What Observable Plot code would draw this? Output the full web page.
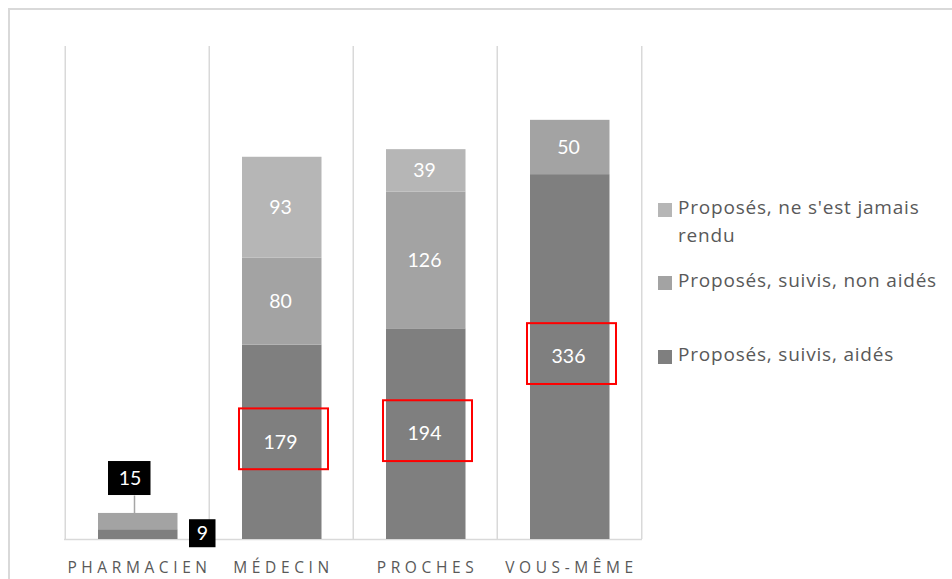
<!DOCTYPE html>
<html><head><meta charset="utf-8">
<script src="https://cdn.jsdelivr.net/npm/d3@7"></script>
<script src="https://cdn.jsdelivr.net/npm/@observablehq/plot@0.6"></script>
<style>
body{margin:0;background:#fff;font-family:"Open Sans",Lato,sans-serif;}
#wrap{position:relative;width:952px;height:579px;overflow:hidden;}
#border{position:absolute;left:8px;top:8px;width:1000px;height:700px;border-left:2px solid #d9d9d9;border-top:2px solid #d9d9d9;}
#chart{position:absolute;left:0;top:0;}
#legend{position:absolute;left:658px;top:0;width:294px;color:#595959;font-size:19px;letter-spacing:0.8px;}
.item{position:absolute;left:0;display:flex;align-items:flex-start;width:294px;}
.sw{width:14px;height:14px;margin-top:5px;margin-right:6px;flex:none;}
.lbl{line-height:28px;margin-top:-5px;max-width:270px;}
#chart g[aria-label^="x-axis"] text{letter-spacing:4.6px;font-size:15.5px;}
</style></head>
<body><div id="wrap"><div id="border"></div><div id="chart"></div><div id="legend"></div></div>
<script>
const categories = ["PHARMACIEN", "MÉDECIN", "PROCHES", "VOUS-MÊME"];
const series = ["Proposés, suivis, aidés", "Proposés, suivis, non aidés", "Proposés, ne s'est jamais rendu"];
const aides = [9, 179, 194, 336];
const nonAides = [15, 80, 126, 50];
const jamais = [0, 93, 39, 0];
const highlighted = ["MÉDECIN", "PROCHES", "VOUS-MÊME"];
const outsideLabels = ["PHARMACIEN"];
const colors = ["#7f7f7f", "#a3a3a3", "#b6b6b6"];

const values = [aides, nonAides, jamais];
const rows = [];
series.forEach((s, si) => categories.forEach((c, ci) => {
  if (values[si][ci] > 0) rows.push({cat: c, series: s, value: values[si][ci]});
}));
const totals = categories.map((c, i) => ({cat: c, total: aides[i] + nonAides[i] + jamais[i], aides: aides[i], nonAides: nonAides[i]}));
const inside = rows.filter(d => !outsideLabels.includes(d.cat));
const pharma = totals.filter(d => outsideLabels.includes(d.cat));
const hl = totals.filter(d => highlighted.includes(d.cat)).map(d => ({cat: d.cat, mid: d.aides / 2}));
const lift = 16.5; // leader length in data units

const step = (642 - 64) / categories.length;

const chart = Plot.plot({
  width: 660, height: 579,
  marginTop: 46, marginBottom: 40, marginLeft: 64, marginRight: 18,
  x: {domain: categories, padding: 0, axis: null, label: null},
  y: {domain: [0, 454], axis: null},
  color: {domain: series, range: colors},
  style: {fontFamily: "'Open Sans', Lato, sans-serif", background: "transparent"},
  marks: [
    Plot.ruleX(categories, {x: d => d, dx: -step / 2, stroke: "#d9d9d9", strokeWidth: 1.5}),
    Plot.ruleX(categories.slice(-1), {x: d => d, dx: step / 2, stroke: "#d9d9d9", strokeWidth: 1.5}),
    Plot.ruleY([0], {stroke: "#d9d9d9", strokeWidth: 1.5}),
    Plot.barY(rows, {x: "cat", y: "value", fill: "series", insetLeft: 33, insetRight: 31.5}),
    Plot.text(inside, Plot.stackY({x: "cat", y: "value", z: "series", text: d => String(d.value), fill: "white", fontSize: 19.5, fontFamily: "Lato, sans-serif", dx: -1})),
    Plot.rect(hl, {x: "cat", y1: d => d.mid - 28, y2: d => d.mid + 28, dy: -3, insetLeft: 30, insetRight: 25, fill: "none", stroke: "#ff0000", strokeWidth: 2}),
    // Pharmacien outside labels
    Plot.link(pharma, {x1: "cat", x2: "cat", y1: "total", y2: d => d.total + lift, dx: -3, stroke: "#a6a6a6", strokeWidth: 1.5}),
    Plot.rect(pharma, {x: "cat", y1: d => d.total + lift, y2: d => d.total + lift, insetTop: -34, insetBottom: 0, insetLeft: 43, insetRight: 58.5, fill: "black"}),
    Plot.text(pharma, {x: "cat", y: d => d.total + lift, dy: -17, dx: -7.5, text: d => String(d.nonAides), fill: "white", fontSize: 19.5, fontFamily: "Lato, sans-serif"}),
    Plot.rect(pharma, {x: "cat", y1: "aides", y2: "aides", insetTop: -10, insetBottom: -18, insetLeft: 124, insetRight: -6.5, fill: "black"}),
    Plot.text(pharma, {x: "cat", y: "aides", dy: 4, dx: 65, text: d => String(d.aides), fill: "white", fontSize: 19.5, fontFamily: "Lato, sans-serif"}),
    Plot.axisX({tickSize: 0, tickPadding: 22, fontSize: 15.5, dx: 2, color: "#595959", fill: "#595959", label: null})
  ]
});
document.getElementById("chart").append(chart);

// Legend
const legend = document.getElementById("legend");
const legendOrder = [2, 1, 0];
const tops = [198, 271, 345];
legendOrder.forEach((si, k) => {
  const it = document.createElement("div");
  it.className = "item";
  it.style.top = tops[k] + "px";
  const sw = document.createElement("div");
  sw.className = "sw"; sw.style.background = colors[si];
  const lb = document.createElement("div");
  lb.className = "lbl"; lb.textContent = series[si];
  it.append(sw, lb);
  legend.append(it);
});
</script></body></html>
